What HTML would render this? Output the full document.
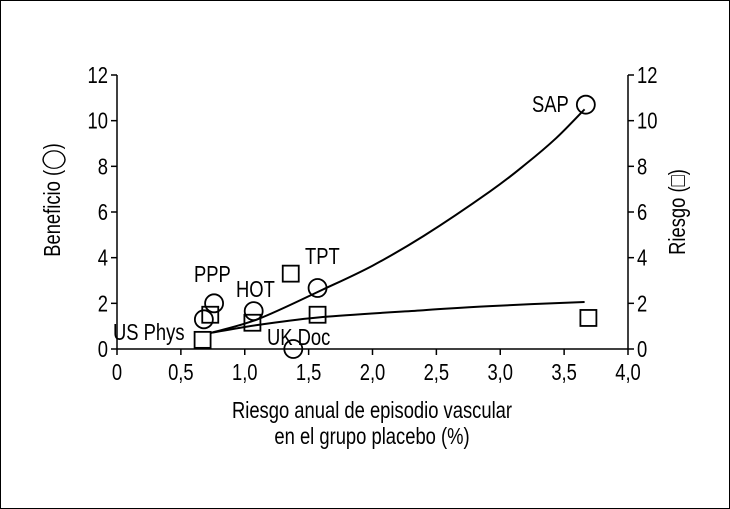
<!DOCTYPE html>
<html><head><meta charset="utf-8"><style>
html,body{margin:0;padding:0;background:#fff;}
svg{display:block;font-family:"Liberation Sans",sans-serif;}
</style></head><body>
<svg id="chart" width="730" height="509" viewBox="0 0 730 509" xmlns="http://www.w3.org/2000/svg">
<rect x="0.5" y="0.5" width="729" height="508" fill="#fff" stroke="#000" stroke-width="1"/>
<g id="g"></g>
</svg>
<script>
const xTicks=[0,0.5,1.0,1.5,2.0,2.5,3.0,3.5,4.0];
const xTickLabels=["0","0,5","1,0","1,5","2,0","2,5","3,0","3,5","4,0"];
const yTicks=[0,2,4,6,8,10,12];
const studies=["US Phys","PPP","HOT","UK Doc","TPT","SAP"];
const benefitX=[0.68,0.76,1.07,1.38,1.57,3.67];
const benefitY=[1.3,2.0,1.66,0,2.67,10.7];
const riskX=[0.67,0.73,1.06,1.36,1.57,3.69];
const riskY=[0.4,1.5,1.15,3.3,1.5,1.36];
const benefitCurveX=[0.73,1.1,1.61,2.0,2.4,2.92,3.2,3.44,3.66];
const benefitCurveY=[0.7,1.3,2.6,3.65,4.95,6.9,8.1,9.25,10.5];
const riskCurveX=[0.73,1.1,1.61,2.4,2.92,3.66];
const riskCurveY=[0.7,1.05,1.4,1.7,1.88,2.06];
const X0=117,X1=628,Y0=349,Y1=75;
const sx=v=>X0+(X1-X0)*v/4, sy=v=>Y0-(Y0-Y1)*v/12;
const NS="http://www.w3.org/2000/svg", g=document.getElementById('g');
function el(t,a,txt){const e=document.createElementNS(NS,t);for(const k in a)e.setAttribute(k,a[k]);if(txt!=null)e.textContent=txt;g.appendChild(e);return e;}
function txt(x,y,s,anchor,size){return el('text',{x:x,y:y,'text-anchor':anchor||'middle','font-size':size||23,fill:'#000',transform:`translate(${x} 0) scale(0.8 1) translate(${-x} 0)`},s);}
let e;
e=el('line',{x1:X0,y1:Y1,x2:X0,y2:Y0,stroke:'#000','stroke-width':1.5});

e=el('line',{x1:X1,y1:Y1,x2:X1,y2:Y0,stroke:'#000','stroke-width':1.5});

e=el('line',{x1:X0,y1:Y0,x2:X1,y2:Y0,stroke:'#000','stroke-width':1.5});

xTicks.forEach((v,i)=>{
 e=el('line',{x1:sx(v),y1:Y0,x2:sx(v),y2:Y0+6,stroke:'#000','stroke-width':1.5});
 
 e=txt(sx(v),Y0+31,xTickLabels[i]);
 
});
yTicks.forEach(v=>{
 e=el('line',{x1:X0-6,y1:sy(v),x2:X0,y2:sy(v),stroke:'#000','stroke-width':1.5});
 
 e=txt(X0-9,sy(v)+8,String(v),'end');
 
 e=el('line',{x1:X1,y1:sy(v),x2:X1+6,y2:sy(v),stroke:'#000','stroke-width':1.5});
 
 e=txt(X1+9,sy(v)+8,String(v),'start');
 
});
function path(xs,ys){
 const p=xs.map((v,i)=>[sx(v),sy(ys[i])]);
 let d='M'+p[0][0].toFixed(1)+' '+p[0][1].toFixed(1);
 for(let i=0;i<p.length-1;i++){
  const a=p[Math.max(0,i-1)],b=p[i],c=p[i+1],n=p[Math.min(p.length-1,i+2)];
  const c1=[b[0]+(c[0]-a[0])/6,b[1]+(c[1]-a[1])/6],c2=[c[0]-(n[0]-b[0])/6,c[1]-(n[1]-b[1])/6];
  d+=` C${c1[0].toFixed(1)} ${c1[1].toFixed(1)} ${c2[0].toFixed(1)} ${c2[1].toFixed(1)} ${c[0].toFixed(1)} ${c[1].toFixed(1)}`;
 }
 return d;
}
e=el('path',{d:path(benefitCurveX,benefitCurveY),fill:'none',stroke:'#000','stroke-width':2});

e=el('path',{d:path(riskCurveX,riskCurveY),fill:'none',stroke:'#000','stroke-width':2});

benefitX.forEach((v,i)=>{
 e=el('circle',{cx:sx(v),cy:sy(benefitY[i]),r:9,fill:'none',stroke:'#000','stroke-width':1.8});
 
});
riskX.forEach((v,i)=>{
 e=el('rect',{x:sx(v)-8,y:sy(riskY[i])-8,width:16,height:16,fill:'none',stroke:'#000','stroke-width':1.8});
 
});
const labelPos=[[113,340,'start'],[194,282,'start'],[236,297,'start'],[267,345,'start'],[305,264,'start'],[532,112,'start']];
studies.forEach((s,i)=>{
 e=txt(labelPos[i][0],labelPos[i][1],s,labelPos[i][2]);
 
});
e=txt(372,418,'Riesgo anual de episodio vascular');

e=txt(372,444,'en el grupo placebo (%)');

e=el('text',{x:0,y:0,'text-anchor':'middle','font-size':23,transform:'translate(60 200) rotate(-90) scale(0.8 1)'},'Beneficio (◯)');

e=el('text',{x:0,y:0,'text-anchor':'middle','font-size':23,transform:'translate(685 212) rotate(-90) scale(0.8 1)'},'Riesgo (□)');

</script>
</body></html>
